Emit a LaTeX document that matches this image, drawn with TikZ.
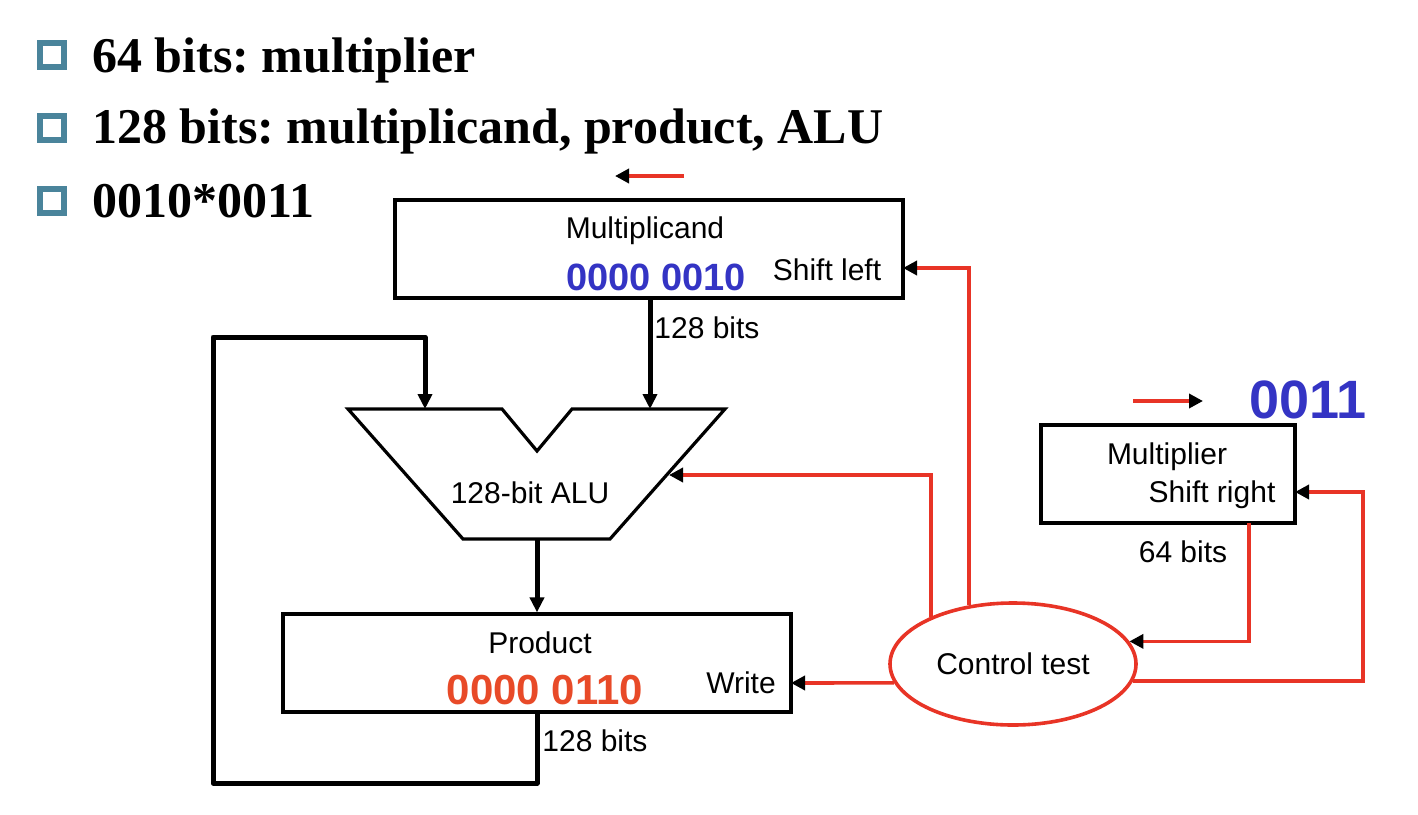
\documentclass[tikz,border=0pt]{standalone}
\usepackage{fontspec}
\setmainfont{Liberation Serif}
\setsansfont{Liberation Sans}
\usetikzlibrary{arrows.meta,shapes.geometric,calc}
\definecolor{bulletc}{RGB}{74,132,155}
\definecolor{ctlred}{RGB}{232,52,38}
\definecolor{valblue}{RGB}{52,52,196}
\definecolor{valred}{RGB}{232,74,40}
\newcommand{\lblfont}{\sffamily\fontsize{15}{18}\selectfont}
\frenchspacing

\begin{document}
\begin{tikzpicture}[x=0.5pt,y=-0.5pt,
  box/.style={draw, line width=1.6pt, minimum width=254pt, minimum height=49pt, inner sep=0pt},
  lbl/.style={font=\lblfont, inner sep=0pt},
  val/.style={font=\sffamily\bfseries\fontsize{19}{22}\selectfont, inner sep=0pt},
  bus/.style={line width=2.5pt, -{Triangle[length=7.5pt,width=7pt]}},
  ctl/.style={ctlred, line width=1.8pt, -{Triangle[black,length=7pt,width=7pt]}},
  bul/.style={draw=bulletc, line width=3pt, fill=white, minimum size=12pt, inner sep=0pt},
  head/.style={font=\bfseries\fontsize{25}{30}\selectfont, anchor=base west, inner sep=0pt}]
  \useasboundingbox (0,0) rectangle (1418,814);

  \node[bul] (b1) at (52,55) {};
  \node[bul] (b2) at (52,128) {};
  \node[bul] (b3) at (52,201) {};
  \node[head] (t1) at (92,72) {64 bits: multiplier};
  \node[head] (t2) at (92,143) {128 bits: multiplicand, product, ALU};
  \node[head] (t3) at (92,217) {0010*0011};

  % registers
  \node[box] (mcand) at (649,249) {};
  \node[lbl] (mcand-t) at (645,231) {Multiplicand};
  \node[val, valblue] (mcand-v) at (656,277) {0000 0010};
  \node[lbl] (mcand-s) at (827,270) {Shift left};

  \node[box] (prod) at (537,663) {};
  \node[lbl] (prod-t) at (540,643) {Product};
  \node[val, valred, font=\sffamily\bfseries\fontsize{21}{24}\selectfont] (prod-v) at (545,690) {0000 0110};
  \node[lbl] (prod-s) at (741,683) {Write};

  \node[box, minimum width=127pt] (mplier) at (1168,474) {};
  \node[lbl] (mplier-t) at (1167,457) {Multiplier};
  \node[lbl] (mplier-s) at (1212,495) {Shift right};
  \node[font=\sffamily\bfseries\fontsize{27}{30}\selectfont, valblue, inner sep=0pt] (mplier-v) at (1308,400) {0011};

  % ALU
  \draw[line width=1.6pt, line join=miter] (348,409) -- (502,409) -- (537,451) -- (572,409)
    -- (725,409) -- (610,539) -- (463,539) -- cycle;
  \node[lbl] (alu) at (530,493) {128-bit ALU};
  \coordinate (alu-l) at (425,409);
  \coordinate (alu-r) at (650,409);
  \coordinate (alu-b) at (537,539);
  \coordinate (alu-in) at (669,475);

  \node[draw=ctlred, line width=1.8pt, ellipse, minimum width=123pt, minimum height=61pt,
    font=\lblfont] (ctrl) at (1013,664) {Control test};

  % data paths
  \draw[bus] (mcand.south -| alu-r) -- (alu-r);
  \node[lbl, anchor=west] (w1) at (654,328) {128 bits};
  \draw[bus] (alu-b) -- (prod.north);
  \coordinate (fb1) at (213,783);
  \coordinate (fb2) at (213,337);
  \draw[bus, line join=round] (prod.south) |- (fb1) -- (fb2) -| (alu-l);
  \node[lbl, anchor=west] (w2) at (542,741) {128 bits};
  \node[lbl] (w3) at (1183,552) {64 bits};

  % control
  \coordinate (mcand-in) at (903,268);
  \coordinate (prod-in) at (791,683);
  \coordinate (mplier-in) at (1295,492);
  \coordinate (mplier-out) at (1249,523);
  \coordinate (rt) at (1363,492);
  \draw[ctl] (ctrl.127) |- (mcand-in);
  \draw[ctl] (ctrl.150) |- (alu-in);
  \draw[ctl] (ctrl.189) -- (prod-in);
  \draw[ctl] (mplier-out) |- (ctrl.11);
  \draw[ctl] (ctrl.-8) -| (rt) -- (mplier-in);

  \coordinate (la1) at (684,176);
  \coordinate (la2) at (615,176);
  \coordinate (ra1) at (1133,401);
  \coordinate (ra2) at (1203,401);
  \draw[ctl] (la1) -- (la2);
  \draw[ctl] (ra1) -- (ra2);
\end{tikzpicture}
\end{document}
